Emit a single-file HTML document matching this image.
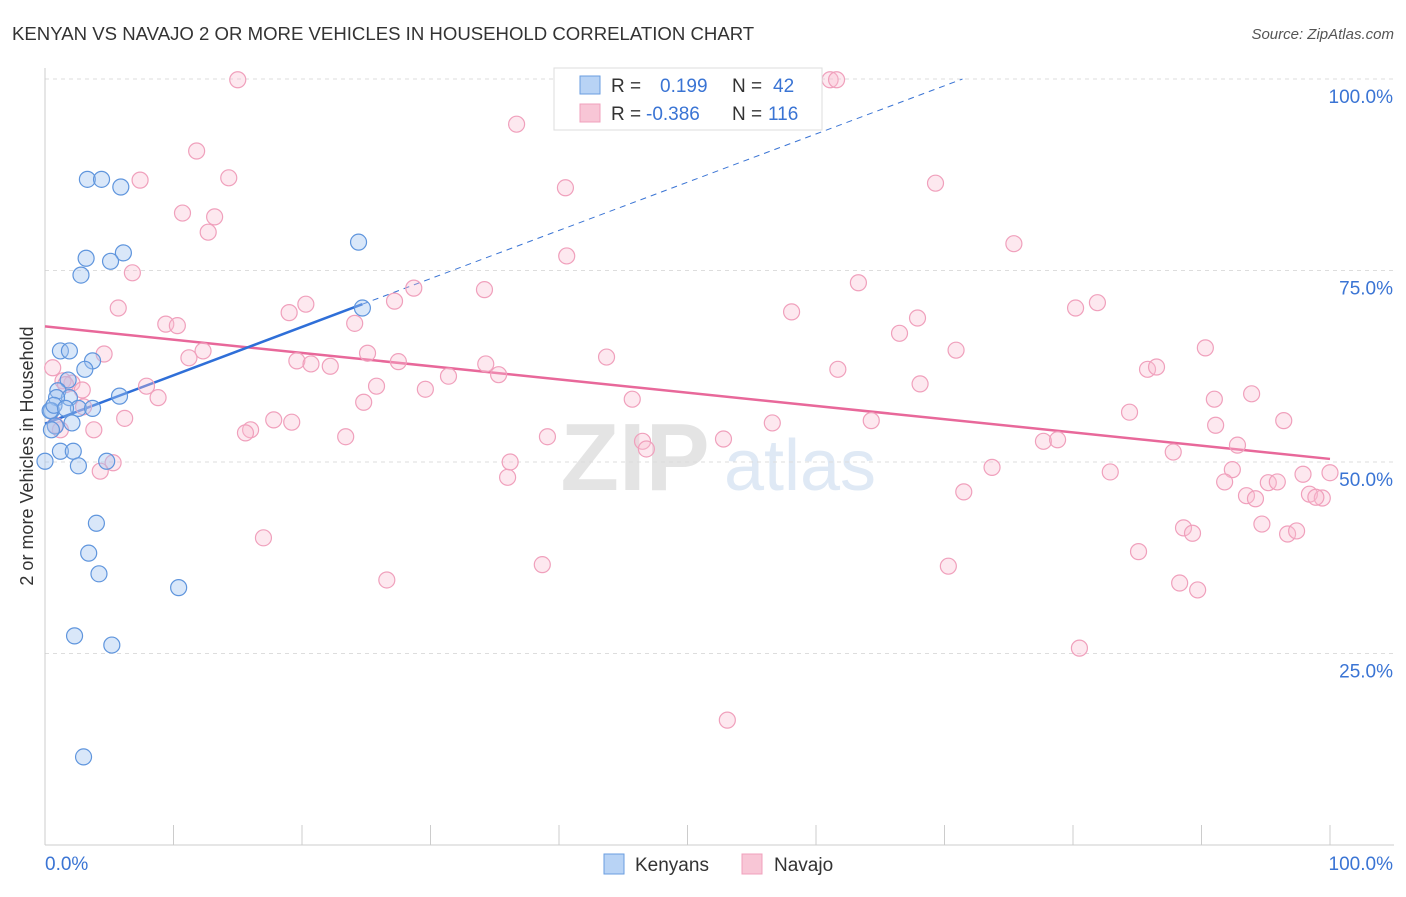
<!DOCTYPE html>
<html><head><meta charset="utf-8">
<style>
body{margin:0;background:#fff;font-family:"Liberation Sans",sans-serif;}
svg text{font-family:"Liberation Sans",sans-serif;}
</style></head>
<body>
<svg id="chart" width="1406" height="892" xmlns="http://www.w3.org/2000/svg">
<text x="12" y="40" font-size="18.6" fill="#333">KENYAN VS NAVAJO 2 OR MORE VEHICLES IN HOUSEHOLD CORRELATION CHART</text>
<text x="1394" y="39" font-size="15" fill="#555" text-anchor="end" font-style="italic">Source: ZipAtlas.com</text>
<text transform="translate(33,456) rotate(-90)" font-size="18" fill="#333" text-anchor="middle">2 or more Vehicles in Household</text>
<g>
<text x="635" y="490" font-size="96" fill="#e4e4e4" text-anchor="middle" font-family="Liberation Serif" font-weight="bold">ZIP</text>
<text x="800" y="490" font-size="72" fill="#dfe9f5" text-anchor="middle">atlas</text>
</g>
<g id="grid"></g><g id="axes"></g><g id="lines"></g><g id="points"></g>
<g>
<rect x="554" y="68" width="268" height="62" fill="#fff" stroke="#ddd"/>
<rect x="580" y="76" width="20" height="18" fill="#b8d3f5" stroke="#6a9ee0"/>
<text x="611" y="92" font-size="19" fill="#333">R =</text>
<text x="660" y="92" font-size="19" fill="#3a74d4">0.199</text>
<text x="732" y="92" font-size="19" fill="#333">N =</text>
<text x="773" y="92" font-size="19" fill="#3a74d4">42</text>
<rect x="580" y="104" width="20" height="18" fill="#f8c6d6" stroke="#f0a0bc"/>
<text x="611" y="120" font-size="19" fill="#333">R =</text>
<text x="646" y="120" font-size="19" fill="#3a74d4">-0.386</text>
<text x="732" y="120" font-size="19" fill="#333">N =</text>
<text x="768" y="120" font-size="19" fill="#3a74d4">116</text>
</g>
<g>
<rect x="604" y="854" width="20" height="20" fill="#b8d3f5" stroke="#6a9ee0"/>
<text x="635" y="871" font-size="19" fill="#333">Kenyans</text>
<rect x="742" y="854" width="20" height="20" fill="#f8c6d6" stroke="#f0a0bc"/>
<text x="774" y="871" font-size="19" fill="#333">Navajo</text>
</g>
</svg>
<script>
const yTicks=[25,50,75,100];
const yTickLabels=["25.0%","50.0%","75.0%","100.0%"];
const xTickLabels=["0.0%","100.0%"];
const kenyanX=[3.3,4.4,5.9,24.4,3.2,6.1,5.1,2.8,24.7,1.2,1.9,3.7,3.1,1.8,1.0,1.9,0.9,5.8,0.5,2.6,3.7,0.4,2.1,0.8,1.2,2.2,0.0,2.6,4.8,4.0,3.4,4.2,10.4,2.3,5.2,3.0,0.7,1.6,0.5];
const kenyanY=[86.9,86.9,85.9,78.7,76.6,77.3,76.2,74.4,70.1,64.5,64.5,63.2,62.1,60.7,59.3,58.4,58.4,58.6,56.7,57.0,57.0,56.7,55.1,54.7,51.4,51.4,50.1,49.5,50.1,42.0,38.1,35.4,33.6,27.3,26.1,11.5,57.4,57.0,54.2];
const navajoX=[15.0,61.1,61.6,36.7,11.8,7.4,14.3,40.5,69.3,10.7,13.2,12.7,40.6,75.4,6.8,63.3,28.7,34.2,20.3,27.2,5.7,19.0,58.1,80.2,81.9,67.9,9.4,10.3,24.1,66.5,70.9,90.3,4.6,12.3,25.1,43.7,11.2,19.6,20.7,22.2,27.5,34.3,0.6,31.4,35.3,61.7,85.8,86.5,7.9,2.1,1.4,25.8,29.6,68.1,2.9,8.8,45.7,93.9,91.0,24.8,3.0,6.2,17.8,19.2,84.4,56.6,64.3,96.4,91.1,16.0,23.4,15.6,39.1,3.8,46.5,46.8,52.8,92.8,77.7,78.8,87.8,5.3,36.2,4.3,36.0,73.7,82.9,97.9,100,92.4,95.2,95.9,91.8,71.5,93.5,94.2,98.4,99.4,98.9,94.7,88.6,89.3,96.7,97.4,17.0,85.1,38.7,70.3,26.6,88.3,89.7,80.5,53.1,1.2,0.8,1.6];
const navajoY=[99.9,99.9,99.9,94.1,90.6,86.8,87.1,85.8,86.4,82.5,82.0,80.0,76.9,78.5,74.7,73.4,72.7,72.5,70.6,71.0,70.1,69.5,69.6,70.1,70.8,68.8,68.0,67.8,68.1,66.8,64.6,64.9,64.1,64.5,64.2,63.7,63.6,63.2,62.8,62.5,63.1,62.8,62.3,61.2,61.4,62.1,62.1,62.4,59.9,60.3,60.6,59.9,59.5,60.2,59.4,58.4,58.2,58.9,58.2,57.8,57.2,55.7,55.5,55.2,56.5,55.1,55.4,55.4,54.8,54.2,53.3,53.8,53.3,54.2,52.7,51.7,53.0,52.2,52.7,52.9,51.3,49.9,50.0,48.8,48.0,49.3,48.7,48.4,48.6,49.0,47.3,47.4,47.4,46.1,45.6,45.2,45.8,45.3,45.4,41.9,41.4,40.7,40.6,41.0,40.1,38.3,36.6,36.4,34.6,34.2,33.3,25.7,16.3,54.2,54.8,60.1];
const kenyanTrend=[[0,55.0],[24.7,70.6]];
const kenyanTrendExt=[[24.7,70.6],[71.4,100]];
const navajoTrend=[[0,67.7],[100,50.4]];
const NS="http://www.w3.org/2000/svg";
const X=v=>45+v*12.85, Y=v=>845-v*7.66;
function mk(tag,attrs,parent){const e=document.createElementNS(NS,tag);for(const k in attrs)e.setAttribute(k,attrs[k]);document.getElementById(parent).appendChild(e);return e;}
yTicks.forEach((t,i)=>{
  const g=mk('line',{x1:45,x2:1394,y1:Y(t),y2:Y(t),stroke:'#ddd','stroke-dasharray':'4,4'},'grid');
  
  
  const l=mk('text',{x:1393,y:Y(t)+24,'font-size':19,fill:'#3a74d4','text-anchor':'end'},'grid');
  l.textContent=yTickLabels[i];
  
  
});
const ax=mk('line',{x1:45,x2:1394,y1:845,y2:845,stroke:'#ccc'},'axes');


const ay=mk('line',{x1:45,x2:45,y1:68,y2:845,stroke:'#ccc'},'axes');


for(let i=0;i<=10;i++){const t=mk('line',{x1:X(i*10),x2:X(i*10),y1:825,y2:845,stroke:'#ccc'},'axes');

}
[[0,'start',45],[1,'end',1393]].forEach(([i,a,x])=>{const l=mk('text',{x:x,y:870,'font-size':19,fill:'#3a74d4','text-anchor':a},'axes');l.textContent=xTickLabels[i];

});
function line(p,col,w,dash,name){const e=mk('line',{x1:X(p[0][0]),y1:Y(p[0][1]),x2:X(p[1][0]),y2:Y(p[1][1]),stroke:col,'stroke-width':w},'lines');if(dash)e.setAttribute('stroke-dasharray',dash);

}
function pts(xs,ys,fill,stroke,name){xs.forEach((x,i)=>{const c=mk('circle',{cx:X(x),cy:Y(ys[i]),r:8,fill:fill,stroke:stroke,'stroke-width':1.2},'points');

});}
pts(navajoX,navajoY,'rgba(248,190,210,0.35)','#f0a0bc','navajo-point');
pts(kenyanX,kenyanY,'rgba(160,196,240,0.4)','#5f95dd','kenyan-point');
line(kenyanTrendExt,'#3a74d4',1,'6,5','kenyan-trend-extension');
line(navajoTrend,'#e8689a',2.5,null,'navajo-trend-line');
line(kenyanTrend,'#2f6fd8',2.5,null,'kenyan-trend-line');
</script>
</body></html>
